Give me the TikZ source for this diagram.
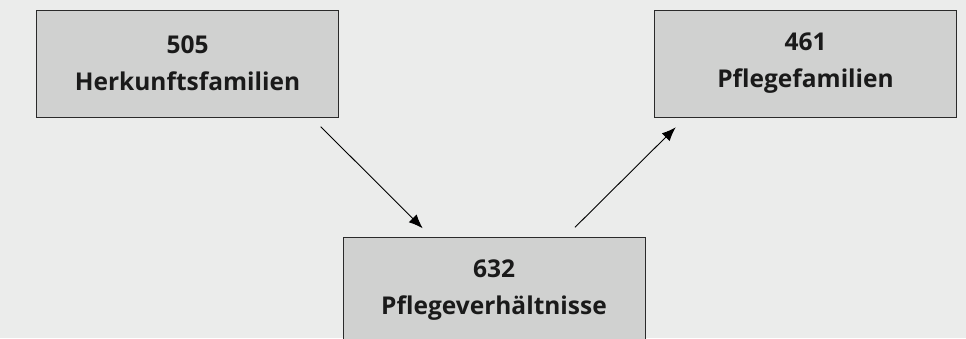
\documentclass[tikz,border=0pt]{standalone}
\usepackage{fontspec}
\setmainfont{Open Sans}
\usetikzlibrary{arrows.meta}
\definecolor{bg}{HTML}{EBECEB}
\definecolor{boxfill}{HTML}{D0D1D0}
\definecolor{boxline}{HTML}{2A2A2A}
\definecolor{txt}{HTML}{1A1A1A}
\begin{document}
\begin{tikzpicture}[x=1pt,y=-1pt,
  box/.style={draw=boxline, line width=1pt, fill=boxfill, rectangle,
    minimum width=302pt, minimum height=107pt, inner sep=0pt,
    align=center, text=txt,
    font=\fontsize{24.5}{37}\selectfont\bfseries},
  conn/.style={draw=black, line width=0.9pt, -{Latex[length=14pt,width=11pt]}}]
\useasboundingbox (0,0) rectangle (966,338);
\clip (0,0) rectangle (966,338);
\fill[bg] (0,0) rectangle (966,338);
\node[box] (h) at (187.5,63.5) {505\\Herkunftsfamilien};
\node[box] (f) at (805.5,63.5) {461\\Pflegefamilien};
\node[box] (p) at (494,290.5) {632\\Pflegeverhältnisse};
\coordinate (h1) at (320.7,126.7);
\coordinate (p1) at (422.7,228.3);
\coordinate (p2) at (575,227.3);
\coordinate (f1) at (675.7,127.3);
\draw[conn] (h1) -- (p1);
\draw[conn] (p2) -- (f1);
\end{tikzpicture}
\end{document}
